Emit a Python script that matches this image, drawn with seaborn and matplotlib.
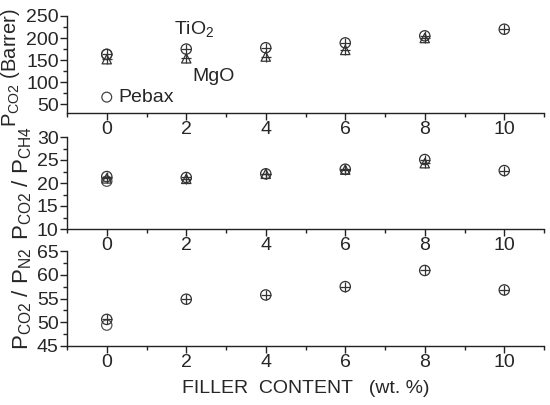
import matplotlib.pyplot as plt
import seaborn as sns
import pandas as pd
from matplotlib.ticker import MultipleLocator

sns.set_style("ticks")
plt.rcParams['font.family'] = ['Liberation Sans', 'DejaVu Sans']
plt.rcParams['mathtext.fontset'] = 'custom'
plt.rcParams['mathtext.rm'] = 'Liberation Sans'

# data
tio2_x = [0, 2, 4, 6, 8, 10]
tio2_perm = [163, 175, 178, 189, 205, 220]
tio2_ch4 = [21.4, 21.2, 22.0, 23.0, 25.1, 22.7]
tio2_n2 = [50.6, 54.85, 55.75, 57.5, 60.9, 56.8]

mgo_x = [0, 2, 4, 6, 8]
mgo_perm = [152, 154, 158, 173, 200]
mgo_ch4 = [21.0, 20.9, 22.0, 22.9, 24.3]

pebax_x = [0]
pebax_perm = [163]
pebax_ch4 = [20.4]
pebax_n2 = [49.4]

ylabels = [r'P$_{\rm CO2}$ (Barrer)', r'P$_{\rm CO2}$ / P$_{\rm CH4}$', r'P$_{\rm CO2}$ / P$_{\rm N2}$']
ylabel_sizes = [14.5, 16, 16]
ylims = [(30, 250), (10, 30), (45, 65)]
ymajor = [50, 5, 5]

fig = plt.figure(figsize=(5.5, 4.05), dpi=100)
left, width = 67 / 550, 477 / 550
boxes = [(16, 113), (137, 229), (251, 346)]
axes = [fig.add_axes([left, 1 - b / 405, width, (b - t) / 405]) for t, b in boxes]

col = '#333333'


def plot_series(ax, x, y, kind):
    df = pd.DataFrame({'x': x, 'y': y})
    if kind == 'tio2':
        sns.scatterplot(data=df, x='x', y='y', ax=ax, marker='o', s=55,
                        facecolor='none', edgecolor=col, linewidth=0.9)
        sns.scatterplot(data=df, x='x', y='y', ax=ax, marker='+', s=55,
                        color=col, linewidth=0.9)
    elif kind == 'mgo':
        sns.scatterplot(data=df, x='x', y='y', ax=ax, marker='^', s=45,
                        facecolor='none', edgecolor=col, linewidth=0.9)
        sns.scatterplot(data=df, x='x', y='y', ax=ax, marker='+', s=60,
                        color=col, linewidth=0.9)
    else:
        sns.scatterplot(data=df, x='x', y='y', ax=ax, marker='o', s=55,
                        facecolor='none', edgecolor='#555555', linewidth=0.9)


plot_series(axes[0], pebax_x, pebax_perm, 'pebax')
plot_series(axes[0], mgo_x, mgo_perm, 'mgo')
plot_series(axes[0], tio2_x, tio2_perm, 'tio2')
plot_series(axes[1], pebax_x, pebax_ch4, 'pebax')
plot_series(axes[1], mgo_x, mgo_ch4, 'mgo')
plot_series(axes[1], tio2_x, tio2_ch4, 'tio2')
plot_series(axes[2], pebax_x, pebax_n2, 'pebax')
plot_series(axes[2], tio2_x, tio2_n2, 'tio2')

for ax, lab, fs, lim, maj in zip(axes, ylabels, ylabel_sizes, ylims, ymajor):
    ax.set_xlim(-1, 11)
    ax.set_ylim(*lim)
    ax.set_yticks(range(lim[0] + (maj - lim[0] % maj) % maj, lim[1] + 1, maj))
    ax.yaxis.set_minor_locator(MultipleLocator(maj / 2))
    ax.set_xticks([0, 2, 4, 6, 8, 10])
    ax.xaxis.set_minor_locator(MultipleLocator(1))
    ax.tick_params(which='major', length=5, width=1, labelsize=14, pad=1, color='#222222')
    ax.tick_params(which='minor', length=3, width=1, color='#222222')
    ax.set_ylabel(lab, fontsize=fs, labelpad=2)
    ax.set_xlabel('')
    sns.despine(ax=ax)
    for s in ['left', 'bottom']:
        ax.spines[s].set_linewidth(1)
        ax.spines[s].set_color('#222222')

axes[0].yaxis.set_label_coords(-0.095, 0.47)
axes[2].set_xlabel('FILLER  CONTENT   (wt. %)', fontsize=14, labelpad=6)

# labels inside the top panel
axes[0].text(1.7, 218, r'TiO$_2$', fontsize=14, va='center')
axes[0].text(2.15, 112, 'MgO', fontsize=14, va='center')
axes[0].scatter([0], [66], marker='o', s=50, facecolor='none', edgecolor='#444444', linewidth=0.9)
axes[0].text(0.3, 66, 'Pebax', fontsize=14, va='center')

fig.savefig('out.png', dpi=100)
